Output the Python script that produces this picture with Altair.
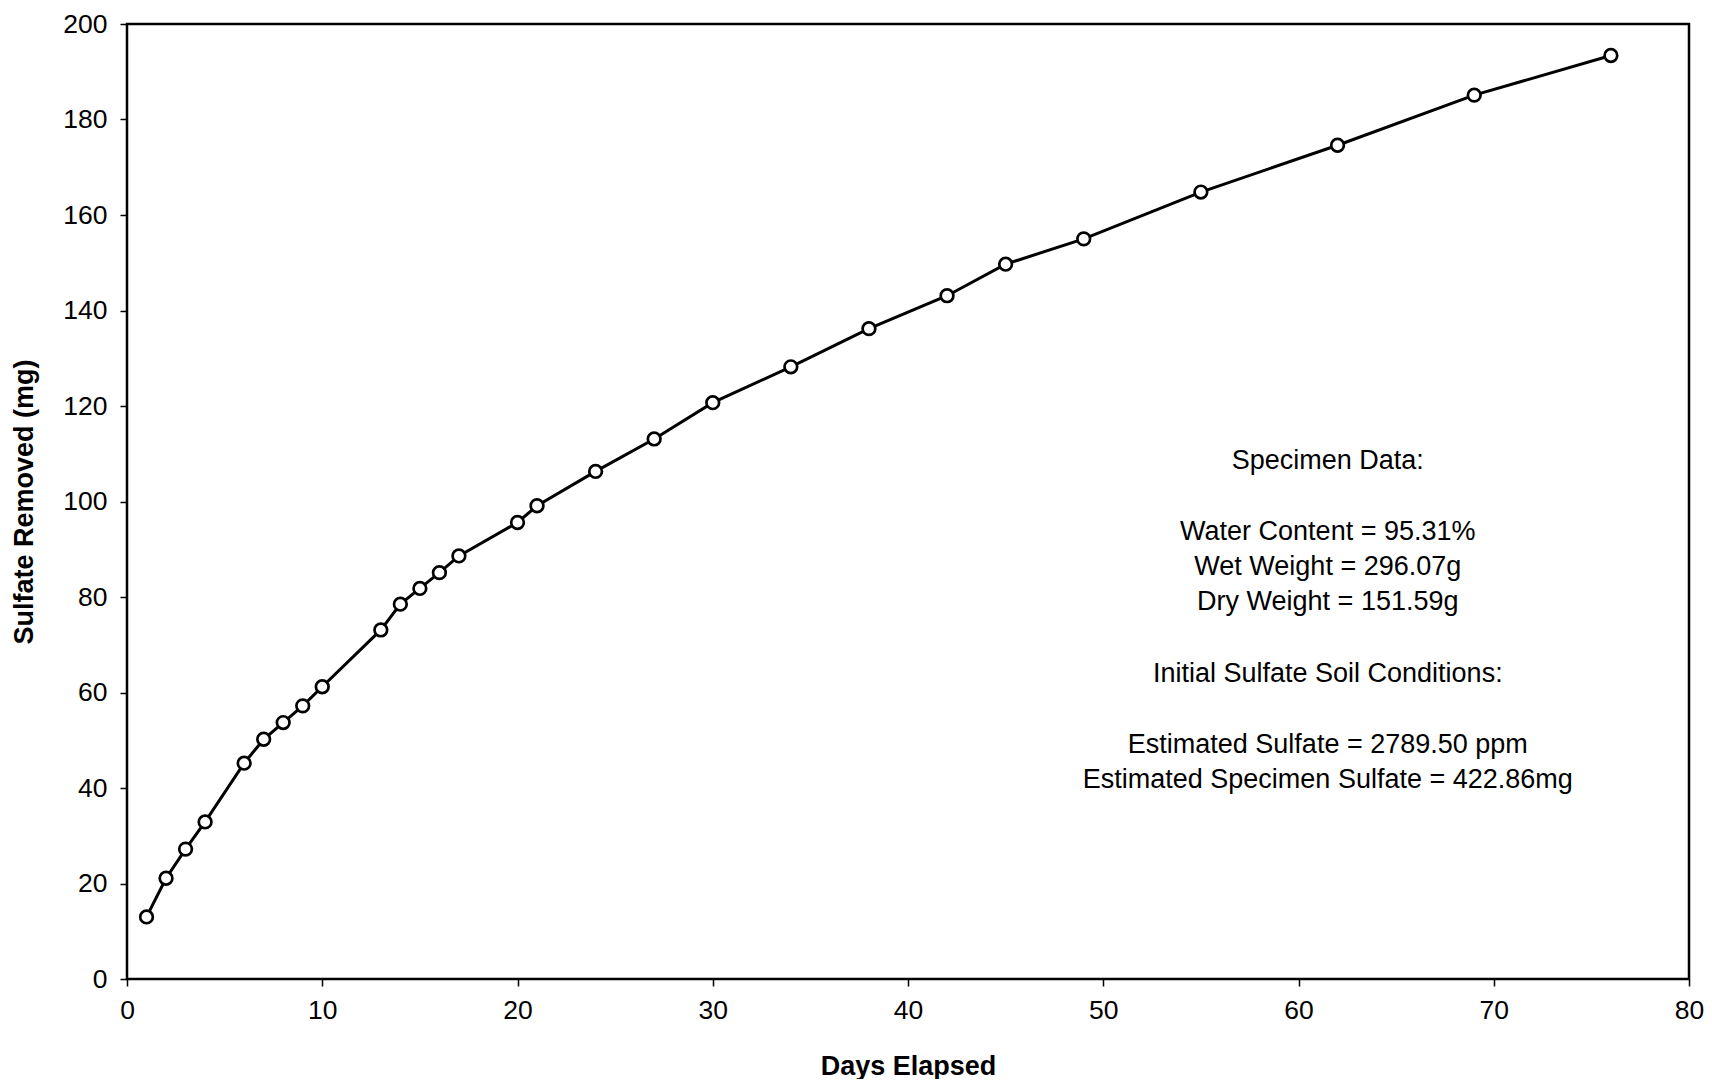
import altair as alt
import pandas as pd

days = [1, 2, 3, 4, 6, 7, 8, 9, 10, 13, 14, 15, 16, 17, 20, 21, 24, 27, 30, 34,
        38, 42, 45, 49, 55, 62, 69, 76]
sulfate = [13.0, 21.1, 27.2, 32.9, 45.2, 50.2, 53.7, 57.2, 61.2, 73.1, 78.5, 81.8,
           85.1, 88.6, 95.6, 99.1, 106.3, 113.1, 120.7, 128.2, 136.2, 143.1, 149.7,
           155.0, 164.8, 174.6, 185.1, 193.4]

note_lines = [
    "Specimen Data:",
    "Water Content = 95.31%",
    "Wet Weight = 296.07g",
    "Dry Weight = 151.59g",
    "Initial Sulfate Soil Conditions:",
    "Estimated Sulfate = 2789.50 ppm",
    "Estimated Specimen Sulfate = 422.86mg",
]
note_x = [61.5] * 7
note_y = [108.5, 93.6, 86.3, 79.0, 63.9, 49.0, 41.7]

x_ticks = list(range(0, 81, 10))
y_ticks = list(range(0, 201, 20))

FONT = "Liberation Sans"
W, H = 1562, 955

df = pd.DataFrame({"day": days, "sulfate": sulfate})
note_df = pd.DataFrame({"x": note_x, "y": note_y, "t": note_lines})

xs = alt.Scale(domain=[0, 80], nice=False, zero=False)
ys = alt.Scale(domain=[0, 200], nice=False)

x_axis = alt.Axis(values=x_ticks, title="Days Elapsed", grid=False,
                  tickSize=7, tickColor="black", tickWidth=1.5,
                  labelFontSize=26.5, labelFont=FONT, labelColor="black",
                  labelPadding=11, domain=False, labelFlush=False,
                  labelOverlap=False,
                  titleFont=FONT, titleFontSize=27, titleFontWeight="bold",
                  titleColor="black", titleX=W / 2, titleY=87,
                  titleBaseline="middle", titleAlign="center")
y_axis = alt.Axis(values=y_ticks, title="Sulfate Removed (mg)", grid=False,
                  tickSize=7, tickColor="black", tickWidth=1.5,
                  labelFontSize=26.5, labelFont=FONT, labelColor="black",
                  labelPadding=13, domain=False, labelFlush=False,
                  labelOverlap=False,
                  titleFont=FONT, titleFontSize=27, titleFontWeight="bold",
                  titleColor="black", titleX=-103, titleY=H / 2,
                  titleAngle=-90, titleBaseline="middle", titleAlign="center")

line = alt.Chart(df).mark_line(color="black", strokeWidth=3).encode(
    x=alt.X("day:Q", scale=xs, axis=x_axis),
    y=alt.Y("sulfate:Q", scale=ys, axis=y_axis),
)
pts = alt.Chart(df).mark_point(shape="circle", filled=True, fill="white",
                               stroke="black", strokeWidth=2.7, size=160,
                               opacity=1).encode(
    x=alt.X("day:Q", scale=xs),
    y=alt.Y("sulfate:Q", scale=ys),
)
note = alt.Chart(note_df).mark_text(
    font=FONT, fontSize=27, color="black",
    align="center", baseline="middle",
).encode(
    x=alt.X("x:Q", scale=xs),
    y=alt.Y("y:Q", scale=ys),
    text="t:N",
)

chart = alt.layer(line, pts, note).properties(
    width=W, height=H,
    autosize=alt.AutoSizeParams(type="none"),
    padding={"left": 119, "top": 16, "right": 15, "bottom": 100},
    background="white",
).configure_view(stroke="black", strokeWidth=2.5)

chart.save("out.html", embed_options={"renderer": "svg", "actions": False})
